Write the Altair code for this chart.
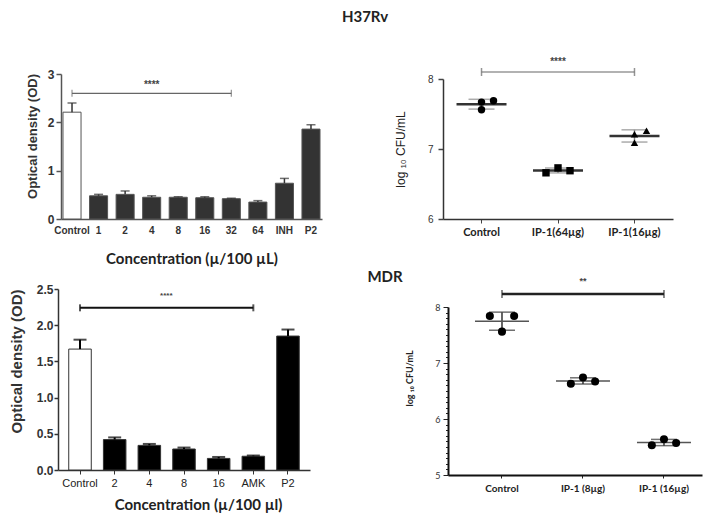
import altair as alt
import pandas as pd

# ---------------- data ----------------
# H37Rv – optical density bars
tl_cats = ["Control", "1", "2", "4", "8", "16", "32", "64", "INH", "P2"]
tl_mean = [2.21, 0.48, 0.51, 0.45, 0.45, 0.44, 0.42, 0.35, 0.74, 1.86]
tl_upper = [2.40, 0.51, 0.58, 0.48, 0.46, 0.46, 0.43, 0.38, 0.84, 1.95]
tl_sig_cats = ["Control", "32"]
tl_sig_level = 2.6
tl_sig_text = "****"
tl_sig_text_cat = "4"

# MDR – optical density bars
bl_cats = ["Control", "2", "4", "8", "16", "AMK", "P2"]
bl_mean = [1.67, 0.42, 0.34, 0.29, 0.16, 0.19, 1.85]
bl_upper = [1.80, 0.45, 0.36, 0.31, 0.18, 0.20, 1.94]
bl_sig_cats = ["Control", "AMK"]
bl_sig_level = 2.24
bl_sig_text = "****"
bl_sig_text_cat = "4"

# H37Rv – log10 CFU/mL scatter
tr_cats = ["Control", "IP-1(64µg)", "IP-1(16µg)"]
tr_groups = ["Control"] * 3 + ["IP-1(64µg)"] * 3 + ["IP-1(16µg)"] * 3
tr_values = [7.67, 7.69, 7.56, 6.66, 6.73, 6.69, 7.21, 7.26, 7.09]
tr_jitter = [0, 1, 0, -1, 0, 1, 0, 1, 0]
tr_shapes = ["circle"] * 3 + ["square"] * 3 + ["triangle-up"] * 3
tr_sig_cats = ["Control", "IP-1(16µg)"]
tr_sig_level = 8.1
tr_sig_text = "****"
tr_sig_text_cat = "IP-1(64µg)"

# MDR – log10 CFU/mL scatter
br_cats = ["Control", "IP-1 (8µg)", "IP-1 (16µg)"]
br_groups = ["Control"] * 3 + ["IP-1 (8µg)"] * 3 + ["IP-1 (16µg)"] * 3
br_values = [7.84, 7.84, 7.56, 6.63, 6.74, 6.67, 5.53, 5.64, 5.57]
br_jitter = [-1, 1, 0, -1, 0, 1, -1, 0, 1]
br_shapes = ["circle"] * 9
br_sig_cats = ["Control", "IP-1 (16µg)"]
br_sig_level = 8.23
br_sig_text = "**"
br_sig_text_cat = "IP-1 (8µg)"

W, H = 700, 505
ARIAL = "Liberation Sans"
CALIBRI = "Lato"
INT_TEST = "abs(datum.value - round(datum.value)) < 0.001"


def bar_panel(cats, mean, upper, sig_cats, sig_level, sig_text, sig_text_cat,
              xr, pi, po, yd, yr, xaxis, yaxis, dark, edge, err_w, cap_size,
              sig_color, sig_w, star_size, star_dx, star_dy):
    df = pd.DataFrame({"cat": cats, "v": mean, "top": upper})
    xs = alt.Scale(domain=cats, range=xr, paddingInner=pi, paddingOuter=po, align=0.5)
    ys = alt.Scale(domain=yd, range=yr, nice=False, zero=False)
    X = alt.X("cat:N", scale=xs, axis=xaxis)
    Y = alt.Y("v:Q", scale=ys, axis=yaxis)
    bars = alt.Chart(df).mark_bar(stroke=edge, strokeWidth=1).encode(
        x=X, y=Y,
        fill=alt.condition(alt.datum.cat == "Control", alt.value("white"), alt.value(dark)),
    )
    err = alt.Chart(df).mark_rule(color=dark, strokeWidth=err_w).encode(
        x=X, y=Y, y2="top:Q")
    cap = alt.Chart(df).mark_tick(color=dark, size=cap_size, thickness=err_w).encode(
        x=X, y=alt.Y("top:Q", scale=ys, axis=yaxis))
    sdf = pd.DataFrame({"cat": sig_cats, "v": [sig_level] * len(sig_cats)})
    sline = alt.Chart(sdf).mark_line(color=sig_color, strokeWidth=sig_w).encode(x=X, y=Y)
    scap = alt.Chart(sdf).mark_tick(orient="vertical", color=sig_color, size=7,
                                    thickness=sig_w).encode(x=X, y=Y)
    tdf = pd.DataFrame({"cat": [sig_text_cat], "v": [sig_level], "t": [sig_text]})
    stars = alt.Chart(tdf).mark_text(font=ARIAL, fontSize=star_size, fontWeight="bold",
                                     color="#444", dx=star_dx, dy=star_dy,
                                     baseline="middle").encode(x=X, y=Y, text="t:N")
    return alt.layer(bars, err, cap, sline, scap, stars)


def dot_panel(cats, groups, values, jitter, shapes, sig_cats, sig_level, sig_text,
              sig_text_cat, xr, pi, po, align, yd, yr, xaxis, yaxis, pt_size,
              eb_color, eb_w, eb_cap, mean_color, mean_w, mean_size,
              sig_color, sig_w, star_size, star_dy):
    df = pd.DataFrame({"cat": groups, "v": values, "j": jitter, "shape": shapes})
    xs = alt.Scale(domain=cats, range=xr, paddingInner=pi, paddingOuter=po, align=align)
    ys = alt.Scale(domain=yd, range=yr, nice=False, zero=False)
    X = alt.X("cat:N", scale=xs, axis=xaxis)
    Y = alt.Y("v:Q", scale=ys, axis=yaxis)
    eb = alt.Chart(df).mark_errorbar(extent="stdev", ticks={"size": eb_cap},
                                     thickness=eb_w, color=eb_color).encode(x=X, y=Y)
    mean = alt.Chart(df).mark_tick(size=mean_size, thickness=mean_w, color=mean_color).encode(
        x=X, y=alt.Y("mean(v):Q", scale=ys, axis=yaxis))
    pts = alt.Chart(df).mark_point(filled=True, size=pt_size, color="black", opacity=1).encode(
        x=X, y=Y,
        xOffset=alt.XOffset("j:Q", scale=alt.Scale(domain=[-1, 1])),
        shape=alt.Shape("shape:N", scale=None),
    )
    sdf = pd.DataFrame({"cat": sig_cats, "v": [sig_level] * len(sig_cats)})
    sline = alt.Chart(sdf).mark_line(color=sig_color, strokeWidth=sig_w).encode(x=X, y=Y)
    scap = alt.Chart(sdf).mark_tick(orient="vertical", color=sig_color, size=8,
                                    thickness=1.5).encode(x=X, y=Y)
    tdf = pd.DataFrame({"cat": [sig_text_cat], "v": [sig_level], "t": [sig_text]})
    stars = alt.Chart(tdf).mark_text(font=ARIAL, fontSize=star_size, fontWeight="bold",
                                     color="#444", dy=star_dy,
                                     baseline="middle").encode(x=X, y=Y, text="t:N")
    return alt.layer(eb, mean, pts, sline, scap, stars)


# ---------------- top-left ----------------
tl_x_axis = alt.Axis(orient="bottom", offset=211 - H, title="Concentration (µ/100 µL)",
                     labelAngle=0, ticks=False, labelPadding=6, labelFont=ARIAL,
                     labelFontSize=10, labelFontWeight="bold", labelColor="#333",
                     domainColor="#555", domainWidth=1.5, titleFont=CALIBRI,
                     titleFontSize=15, titleFontWeight="bold", titleColor="#222",
                     titlePadding=16)
tl_y_axis = alt.Axis(orient="left", offset=-53, values=[0, 1, 2, 3], grid=False,
                     title="Optical density (OD)", tickSize=5, tickColor="#555",
                     tickWidth=1.5, labelPadding=2, labelFont=ARIAL, labelFontSize=12,
                     labelFontWeight="bold", labelColor="#333", domainColor="#555",
                     domainWidth=1.5, titleFont=ARIAL, titleFontSize=13,
                     titleFontWeight="bold", titleColor="#333", titlePadding=8, titleY=128)
tl = bar_panel(tl_cats, tl_mean, tl_upper, tl_sig_cats, tl_sig_level, tl_sig_text,
               tl_sig_text_cat, [53, 314], 0.32, 0.075, [0, 3], [211, 66],
               tl_x_axis, tl_y_axis, "#333333", "#555555", 1.5, 9,
               "#666666", 1.2, 10, 0, -8)

# ---------------- bottom-left ----------------
bl_x_axis = alt.Axis(orient="bottom", offset=462 - H, title="Concentration (µ/100 µl)",
                     labelAngle=0, tickSize=4, tickColor="#333", labelPadding=3,
                     labelFont=ARIAL, labelFontSize=11, labelColor="#222",
                     domainColor="#333", domainWidth=1.5, titleFont=CALIBRI,
                     titleFontSize=15, titleFontWeight="bold", titleColor="#222",
                     titlePadding=9, titleX=190)
bl_y_axis = alt.Axis(orient="left", offset=-50, values=[0, 0.5, 1, 1.5, 2, 2.5],
                     format=".1f", grid=False, title="Optical density (OD)", tickSize=4,
                     tickColor="#333", tickWidth=1.5, labelPadding=1, labelFont=ARIAL,
                     labelFontSize=12, labelFontWeight="bold", labelColor="#333",
                     domainColor="#333", domainWidth=1.5, titleFont=ARIAL,
                     titleFontSize=15, titleFontWeight="bold", titleColor="#333",
                     titlePadding=12, titleY=353)
bl = bar_panel(bl_cats, bl_mean, bl_upper, bl_sig_cats, bl_sig_level, bl_sig_text,
               bl_sig_text_cat, [50, 302], 0.35, 0.31, [0, 2.5], [462, 281],
               bl_x_axis, bl_y_axis, "#000000", "#333333", 2, 13,
               "#111111", 2, 8, 17, -12)

# ---------------- top-right ----------------
tr_x_axis = alt.Axis(orient="bottom", offset=211 - H, title=None, labelAngle=0,
                     tickSize=4, tickColor="#444", labelPadding=3, labelFont=CALIBRI,
                     labelFontSize=11, labelFontWeight="bold", labelColor="#222",
                     domainColor="#333", domainWidth=1.5)
tr_y_axis = alt.Axis(orient="left", offset=-435, values=[6, 7, 8], format=".0f",
                     grid=False, title="log ₁₀ CFU/mL", tickSize=5, tickColor="#444",
                     tickWidth=1.5, labelPadding=5, labelFont=ARIAL, labelFontSize=10,
                     labelColor="#333", domainColor="#333", domainWidth=1.5,
                     titleFont=ARIAL, titleFontSize=12, titleFontWeight="normal",
                     titleColor="#222", titlePadding=20)
tr = dot_panel(tr_cats, tr_groups, tr_values, tr_jitter, tr_shapes, tr_sig_cats,
               tr_sig_level, tr_sig_text, tr_sig_text_cat, [435, 665], 0.686, 0.3465, 0.5,
               [6, 8], [211, 71], tr_x_axis, tr_y_axis, 55, "#888888", 1.5, 26,
               "#333333", 2.5, 50, "#666666", 1.2, 10, -10)

# ---------------- bottom-right ----------------
br_minor = [round(5 + 0.1 * i, 1) for i in range(31)]
br_x_axis = alt.Axis(orient="bottom", offset=467 - H, title=None, labelAngle=0,
                     tickSize=3, tickColor="#222", labelPadding=5, labelFont=CALIBRI,
                     labelFontSize=10, labelFontWeight="bold", labelColor="#222",
                     domainColor="#111", domainWidth=2)
br_y_axis = alt.Axis(orient="left", offset=-440, values=br_minor, format=".0f",
                     labelExpr=f"{INT_TEST} ? datum.label : ''", labelOverlap=False,
                     grid=False, title="log ₁₀ CFU/mL",
                     tickSize={"condition": {"test": INT_TEST, "value": 5}, "value": 2.5},
                     tickColor="#222", tickWidth=1, labelPadding=3, labelFont=CALIBRI,
                     labelFontSize=9, labelColor="#333", domainColor="#111",
                     domainWidth=2, titleFont=CALIBRI, titleFontSize=9,
                     titleFontWeight="bold", titleColor="#222", titlePadding=20, titleY=370)
br = dot_panel(br_cats, br_groups, br_values, br_jitter, br_shapes, br_sig_cats,
               br_sig_level, br_sig_text, br_sig_text_cat, [440, 694], 0.7, 0.418, 0.618,
               [5, 8], [467, 299], br_x_axis, br_y_axis, 65, "#333333", 1.5, 26,
               "#555555", 1.5, 54, "#222222", 2.5, 9, -13)

# ---------------- section titles ----------------
t_h37 = alt.Chart(pd.DataFrame({"t": ["H37Rv"]})).mark_text(
    font=CALIBRI, fontSize=15, fontWeight="bold", color="#222", baseline="middle"
).encode(text="t:N", x=alt.value(357), y=alt.value(9))
t_mdr = alt.Chart(pd.DataFrame({"t": ["MDR"]})).mark_text(
    font=CALIBRI, fontSize=15, fontWeight="bold", color="#222", baseline="middle"
).encode(text="t:N", x=alt.value(377), y=alt.value(269))

chart = (
    alt.layer(tl, tr, bl, br, t_h37, t_mdr)
    .resolve_scale(x="independent", y="independent", xOffset="independent")
    .resolve_axis(x="independent", y="independent")
    .properties(width=W, height=H, autosize="none", padding=0, background="white")
    .configure_view(stroke=None)
)

chart.save("out.html", embed_options={"renderer": "svg", "actions": False})
